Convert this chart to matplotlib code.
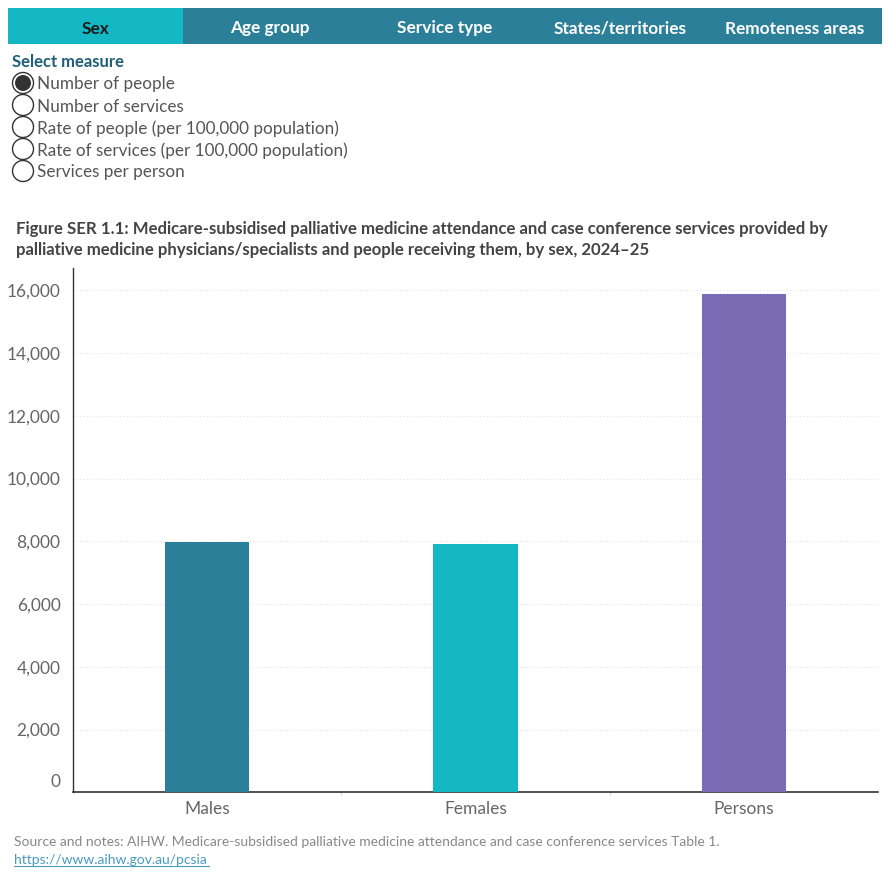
import matplotlib.pyplot as plt
import matplotlib.transforms as mtransforms
from matplotlib.patches import Rectangle, Circle
from matplotlib.ticker import FuncFormatter

plt.rcParams['font.family'] = ['Lato', 'DejaVu Sans']

categories = ['Males', 'Females', 'Persons']
values = [7975, 7910, 15885]
colors = ['#2C7F99', '#14B8C4', '#7B6AB4']
yticks = [0, 2000, 4000, 6000, 8000, 10000, 12000, 14000, 16000]

tabs = ['Sex', 'Age group', 'Service type', 'States/territories', 'Remoteness areas']
measures = ['Number of people', 'Number of services', 'Rate of people (per 100,000 population)',
            'Rate of services (per 100,000 population)', 'Services per person']

title = ('Figure SER 1.1: Medicare-subsidised palliative medicine attendance and case conference services provided by\n'
         'palliative medicine physicians/specialists and people receiving them, by sex, 2024\u201325')
source = 'Source and notes: AIHW. Medicare-subsidised palliative medicine attendance and case conference services Table 1.'
link = 'https://www.aihw.gov.au/pcsia'

W, H = 890, 880
fig = plt.figure(figsize=(W / 100, H / 100), dpi=100)

# overlay in pixel coordinates for the dashboard widgets
ui = fig.add_axes([0, 0, 1, 1])
ui.set_xlim(0, W)
ui.set_ylim(H, 0)
ui.axis('off')

tab_w = (882 - 8) / len(tabs)
for i, t in enumerate(tabs):
    x0 = 8 + i * tab_w
    ui.add_patch(Rectangle((x0, 8), tab_w, 36, color='#14B8C4' if i == 0 else '#2C7F99', lw=0))
    ui.text(x0 + tab_w / 2, 27, t, ha='center', va='center_baseline', fontsize=12.4, fontweight='bold',
            color='#1a1a1a' if i == 0 else 'white')

ui.text(12, 60.5, 'Select measure', ha='left', va='center_baseline', fontsize=12, fontweight='bold', color='#1f5f78')
for i, m in enumerate(measures):
    y = 83 + i * 22
    ui.add_patch(Circle((23, y), 10.5, fill=False, ec='#333333', lw=1.0))
    if i == 0:
        ui.add_patch(Circle((23, y), 8, color='#333333', lw=0))
    ui.text(37, y, m, ha='left', va='center_baseline', fontsize=12.3, color='#555555')

ui.text(16, 239.5, title, ha='left', va='center', fontsize=12.1, fontweight='bold', color='#444444',
        linespacing=1.4)

ui.text(14, 841, source, ha='left', va='center_baseline', fontsize=10, color='#888888')
ui.text(14, 859, link, ha='left', va='center_baseline', fontsize=10, color='#4a9bc0')
ui.plot([14, 209], [866, 866], color='#4a9bc0', lw=0.8)

# chart
ax = fig.add_axes([73 / W, (H - 792.3) / H, (878 - 73) / W, (792.3 - 268) / H])
x = list(range(len(categories)))
ax.bar(x, values, width=84 / 268.3, color=colors, zorder=3)
ax.set_xlim(-0.5, len(categories) - 0.5)
ax.set_ylim(0, 16711)
ax.set_yticks(yticks)
ax.yaxis.set_major_formatter(FuncFormatter(lambda v, p: f'{int(v):,}'))
ax.set_xticks(x)
ax.set_xticklabels(categories)
ax.tick_params(axis='y', length=0, pad=9, labelsize=12.5, labelcolor='#666666')
ax.tick_params(axis='x', length=0, pad=6, labelsize=12.5, labelcolor='#666666')
ax.grid(axis='y', color='#e4e4e4', linestyle=(0, (1, 2)), lw=0.8, zorder=0)
for s in ['top', 'right']:
    ax.spines[s].set_visible(False)
ax.spines['left'].set_color('#333333')
ax.spines['bottom'].set_color('#333333')
ax.spines['left'].set_linewidth(1.0)
ax.spines['bottom'].set_linewidth(1.2)

# category separator ticks below the axis
for b in [0.5, 1.5]:
    ax.plot([b, b], [0, -0.006], transform=ax.get_xaxis_transform(), color='#dddddd', lw=0.8, clip_on=False)

# Tableau lifts the zero label off the axis
zero_lab = ax.get_yticklabels()[0]
zero_lab.set_transform(zero_lab.get_transform() + mtransforms.ScaledTranslation(0, 12 / 100, fig.dpi_scale_trans))

fig.savefig('out.png', dpi=100)
